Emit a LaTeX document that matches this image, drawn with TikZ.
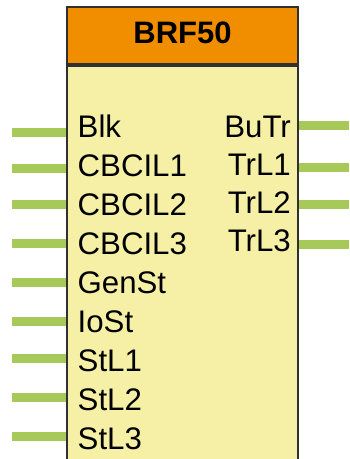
\documentclass[tikz,border=0pt]{standalone}
\usepackage{fontspec}
\setmainfont{Liberation Sans}
\usepackage{tikz}
\usetikzlibrary{positioning}
\definecolor{brforange}{RGB}{240, 142, 0}
\definecolor{brfyellow}{RGB}{245, 240, 166}
\definecolor{brfgreen}{RGB}{166, 201, 90}
\definecolor{brfline}{RGB}{48, 48, 48}

\begin{document}
\begin{tikzpicture}[x=1pt, y=-1pt, >=stealth,
    inport/.style={inner sep=0pt, text height=22pt, text depth=6pt, text width=115pt, align=left, font=\fontsize{31.2}{36}\selectfont},
    outport/.style={inner sep=0pt, text height=22pt, text depth=6pt, text width=80pt, align=right, font=\fontsize{31.2}{36}\selectfont},
    wire/.style={draw=brfgreen, line width=9pt}]
    \useasboundingbox (0,0) rectangle (349,459);

    \node[draw=brfline, line width=2pt, rectangle, fill=brfyellow, minimum width=231pt, minimum height=420pt, anchor=north west] (body) at (66,65) {};
    \node[draw=brfline, line width=2pt, rectangle, fill=brforange, minimum width=231pt, minimum height=57pt, text depth=5pt, font=\fontsize{31}{36}\selectfont\bfseries, anchor=south west] (head) at (body.north west) {BRF50};

    \node[inport, anchor=base west] (blk) at (77.5,137) {Blk};
    \node[inport, below=10.6pt of blk] (cbcil1) {CBCIL1};
    \node[inport, below=10.6pt of cbcil1] (cbcil2) {CBCIL2};
    \node[inport, below=10.6pt of cbcil2] (cbcil3) {CBCIL3};
    \node[inport, below=10.6pt of cbcil3] (genst) {GenSt};
    \node[inport, below=10.6pt of genst] (iost) {IoSt};
    \node[inport, below=10.6pt of iost] (stl1) {StL1};
    \node[inport, below=10.6pt of stl1] (stl2) {StL2};
    \node[inport, below=10.6pt of stl2] (stl3) {StL3};

    \node[outport, anchor=base east] (butr) at (291,137) {BuTr};
    \node[outport, below=9.7pt of butr] (trl1) {TrL1};
    \node[outport, below=9.7pt of trl1] (trl2) {TrL2};
    \node[outport, below=9.7pt of trl2] (trl3) {TrL3};

    % free ends of the input wires
    \coordinate (inblk) at (12,132.5);
    \coordinate (incbcil1) at (12,168.7);
    \coordinate (incbcil2) at (12,204.7);
    \coordinate (incbcil3) at (12,243.5);
    \coordinate (ingenst) at (12,282.5);
    \coordinate (iniost) at (12,321);
    \coordinate (instl1) at (12,358.5);
    \coordinate (instl2) at (12,397);
    \coordinate (instl3) at (12,436);
    % free ends of the output wires
    \coordinate (outbutr) at (349,125.3);
    \coordinate (outtrl1) at (349,167);
    \coordinate (outtrl2) at (349,204.7);
    \coordinate (outtrl3) at (349,244);

    \draw[wire] (inblk) -- (inblk -| body.west);
    \draw[wire] (incbcil1) -- (incbcil1 -| body.west);
    \draw[wire] (incbcil2) -- (incbcil2 -| body.west);
    \draw[wire] (incbcil3) -- (incbcil3 -| body.west);
    \draw[wire] (ingenst) -- (ingenst -| body.west);
    \draw[wire] (iniost) -- (iniost -| body.west);
    \draw[wire] (instl1) -- (instl1 -| body.west);
    \draw[wire] (instl2) -- (instl2 -| body.west);
    \draw[wire] (instl3) -- (instl3 -| body.west);

    \draw[wire] (body.east |- outbutr) -- (outbutr);
    \draw[wire] (body.east |- outtrl1) -- (outtrl1);
    \draw[wire] (body.east |- outtrl2) -- (outtrl2);
    \draw[wire] (body.east |- outtrl3) -- (outtrl3);
\end{tikzpicture}
\end{document}
